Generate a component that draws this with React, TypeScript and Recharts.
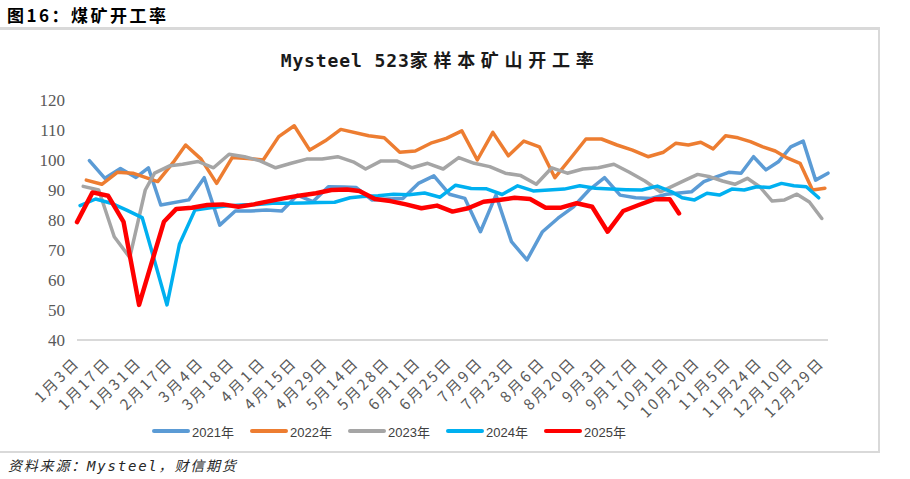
import { LineChart, Line, XAxis, YAxis } from 'recharts';

const YEARS = ['2021', '2022', '2023', '2024', '2025'];
const COLORS = ['#5B9BD5', '#ED7D31', '#A5A5A5', '#00B0F0', '#FF0000'];
const LINE_W = [3.5, 3.5, 3.5, 3.5, 4.5];

// weekly report dates (Fridays), weeks without a report listed in SKIPPED
const FIRST_DATE = ['2021-01-08', '2022-01-07', '2023-01-06', '2024-01-05', '2025-01-03'];
const LAST_DATE = ['2021-12-31', '2022-12-30', '2023-12-29', '2024-12-27', '2025-10-10'];
const SKIPPED = [
  ['2021-02-19', '2021-10-08'],
  ['2022-02-04', '2022-05-13'],
  ['2023-10-06'],
  [],
  ['2025-02-07'],
];

const v2021 = [
  99.8, 93.9, 97.2, 94.2, 97.4, 85.0, 86.7, 94.1, 78.3, 83.0,
  83.0, 83.3, 83.0, 88.3, 86.1, 91.1, 91.0, 90.8, 86.7, 87.0,
  87.2, 92.2, 94.7, 88.6, 87.2, 76.1, 88.3, 72.8, 66.7, 76.1,
  80.6, 84.4, 90.0, 94.1, 88.3, 87.4, 87.2, 88.6, 89.4, 92.8,
  94.4, 95.9, 95.6, 101.1, 96.7, 99.4, 104.4, 106.3, 93.3, 95.6,
];
const v2022 = [
  93.3, 91.9, 95.9, 95.6, 92.8, 99.2, 105.0, 100.3, 92.2, 100.8,
  100.5, 100.0, 107.8, 111.4, 103.3, 106.4, 110.2, 108.1, 107.4, 102.6,
  103.0, 105.6, 107.2, 109.7, 100.0, 109.2, 101.4, 106.3, 104.4, 94.1,
  100.5, 107.0, 107.0, 105.0, 103.3, 101.1, 102.6, 105.6, 105.0, 105.9,
  103.7, 108.1, 107.4, 106.1, 104.4, 103.0, 100.6, 98.9, 90.0, 90.6,
];
const v2023 = [
  91.2, 90.0, 74.4, 67.5, 90.0, 95.6, 98.1, 98.6, 99.5, 97.4,
  101.9, 101.1, 99.7, 97.4, 98.9, 100.3, 100.3, 101.1, 99.4, 97.0,
  99.7, 99.7, 97.4, 98.9, 97.0, 100.8, 98.9, 97.8, 95.6, 94.8,
  91.9, 97.4, 95.6, 97.0, 97.4, 98.6, 95.9, 93.0, 89.4, 93.3,
  95.2, 94.4, 93.0, 91.9, 93.9, 91.1, 86.3, 86.7, 88.6, 86.0,
  80.5,
];
const v2024 = [
  84.8, 87.0, 85.6, 83.3, 80.8, 70.0, 51.7, 71.9, 83.3, 84.1,
  84.7, 85.0, 85.2, 85.6, 85.6, 85.7, 85.8, 85.9, 87.4, 87.8,
  88.1, 88.6, 88.4, 89.0, 87.6, 91.6, 90.5, 90.4, 88.5, 91.4,
  89.7, 90.0, 90.3, 91.4, 90.6, 90.3, 90.1, 90.0, 91.3, 89.2,
  87.4, 86.7, 88.9, 88.3, 90.3, 90.0, 91.1, 90.8, 92.2, 91.4,
  91.1, 87.4,
];
const v2025 = [
  79.3, 89.2, 88.1, 79.4, 51.7, 79.4, 83.7, 84.1, 85.0, 85.2,
  84.4, 85.2, 86.3, 87.3, 88.2, 88.9, 90.0, 90.2, 89.7, 87.0,
  86.3, 85.2, 83.9, 84.8, 82.8, 83.9, 86.1, 86.7, 87.4, 87.0,
  84.1, 84.1, 85.6, 84.4, 76.1, 83.0, 85.0, 86.9, 86.9, 82.2,
];
const VALUES = [v2021, v2022, v2023, v2024, v2025];

const TICK_LABELS = [
  '1月3日', '1月17日', '1月31日', '2月17日', '3月4日', '3月18日', '4月1日',
  '4月15日', '4月29日', '5月14日', '5月28日', '6月11日', '6月25日', '7月9日',
  '7月23日', '8月6日', '8月20日', '9月3日', '9月17日', '10月1日', '10月20日',
  '11月5日', '11月24日', '12月10日', '12月29日',
];
const Y_TICKS = [40, 50, 60, 70, 80, 90, 100, 110, 120];

function reportDates(first: string, last: string, skipped: string[]) {
  const out: { m: number; d: number }[] = [];
  const end = Date.parse(last + 'T00:00:00Z');
  for (let t = Date.parse(first + 'T00:00:00Z'); t <= end; t += 7 * 86400000) {
    const dt = new Date(t);
    if (skipped.includes(dt.toISOString().slice(0, 10))) continue;
    out.push({ m: dt.getUTCMonth() + 1, d: dt.getUTCDate() });
  }
  return out;
}

// one category per month-day that appears in any year
const byKey = new Map<number, any>();
YEARS.forEach((year, i) => {
  reportDates(FIRST_DATE[i], LAST_DATE[i], SKIPPED[i]).forEach((dt, j) => {
    const key = dt.m * 100 + dt.d;
    let row = byKey.get(key);
    if (!row) {
      row = { key, label: `${dt.m}月${dt.d}日` };
      byKey.set(key, row);
    }
    row['y' + year] = VALUES[i][j];
  });
});
const rows = [...byKey.values()].sort((a, b) => a.key - b.key);

const XTick = (props: any) => {
  const { x, y, payload } = props;
  return (
    <g transform={`translate(${x},${y + 20}) rotate(-45)`}>
      <text
        x={0}
        y={0}
        dy="0.35em"
        textAnchor="end"
        fill="#595959"
        style={{ fontFamily: "'Noto Sans CJK SC'", fontSize: 15, letterSpacing: '2.4px' }}
      >
        {payload.value}
      </text>
    </g>
  );
};

export default function App() {
  return (
    <div
      style={{
        position: 'absolute',
        left: 0,
        top: 0,
        width: 910,
        height: 479,
        background: '#fff',
        overflow: 'hidden',
      }}
    >
      <div
        style={{
          position: 'absolute',
          left: 7,
          top: 3,
          fontFamily: "'Noto Sans CJK SC'",
          fontWeight: 700,
          fontSize: 17,
          letterSpacing: '2.5px',
          color: '#000',
          lineHeight: '24px',
          whiteSpace: 'nowrap',
        }}
      >
        图16：煤矿开工率
      </div>
      <div style={{ position: 'absolute', left: 0, top: 27, width: 880, height: 3, background: '#d9d9d9' }} />
      <div style={{ position: 'absolute', left: 878, top: 27, width: 2, height: 426, background: '#d9d9d9' }} />
      <div style={{ position: 'absolute', left: 0, top: 451, width: 880, height: 2, background: '#d9d9d9' }} />

      <div
        style={{
          position: 'absolute',
          left: 0,
          width: 880,
          top: 46,
          textAlign: 'center',
          lineHeight: '26px',
          whiteSpace: 'nowrap',
          color: '#1a1a1a',
          fontWeight: 700,
          fontSize: 18,
        }}
      >
        <span style={{ fontFamily: "'DejaVu Sans Mono'", letterSpacing: '0.9px' }}>Mysteel 523</span>
        <span style={{ fontFamily: "'Noto Sans CJK SC'", letterSpacing: '5.7px' }}>家样本矿山开工率</span>
      </div>

      <div style={{ position: 'absolute', left: 0, top: 0 }}>
        <LineChart width={880} height={452} data={rows} margin={{ top: 100, right: 52, bottom: 0, left: 0 }}>
          <XAxis
            dataKey="label"
            ticks={TICK_LABELS}
            interval={0}
            height={112}
            tick={<XTick />}
            tickLine={false}
            tickSize={0}
            tickMargin={0}
            axisLine={{ stroke: '#d9d9d9', strokeWidth: 2 }}
          />
          <YAxis
            type="number"
            domain={[40, 120]}
            ticks={Y_TICKS}
            width={77}
            axisLine={false}
            tickLine={false}
            tickSize={0}
            tickMargin={12}
            tick={{ fill: '#595959', fontSize: 17, fontFamily: "'Liberation Serif', serif" }}
          />
          {YEARS.map((year, i) => (
            <Line
              key={year}
              type="linear"
              dataKey={'y' + year}
              name={year + '年'}
              stroke={COLORS[i]}
              strokeWidth={LINE_W[i]}
              strokeLinejoin="round"
              strokeLinecap="round"
              dot={false}
              activeDot={false}
              connectNulls
              isAnimationActive={false}
            />
          ))}
        </LineChart>
      </div>

      <div style={{ position: 'absolute', left: 152, top: 421, height: 20, display: 'flex', alignItems: 'center' }}>
        {YEARS.map((year, i) => (
          <div key={year} style={{ width: 98, display: 'flex', alignItems: 'center', flex: 'none' }}>
            <span
              style={{
                display: 'inline-block',
                width: 38,
                height: 4,
                borderRadius: 2,
                background: COLORS[i],
                marginRight: 2,
              }}
            />
            <span
              style={{
                fontFamily: "'Liberation Sans', 'Noto Sans CJK SC'",
                fontSize: 13,
                color: '#404040',
                whiteSpace: 'nowrap',
              }}
            >
              {year}年
            </span>
          </div>
        ))}
      </div>

      <div
        style={{
          position: 'absolute',
          left: 8,
          top: 456,
          fontFamily: "'DejaVu Sans Mono', 'Noto Sans CJK SC'",
          fontStyle: 'italic',
          fontSize: 14,
          letterSpacing: '1.8px',
          color: '#262626',
          lineHeight: '20px',
          whiteSpace: 'nowrap',
        }}
      >
        资料来源：Mysteel，财信期货
      </div>
    </div>
  );
}
